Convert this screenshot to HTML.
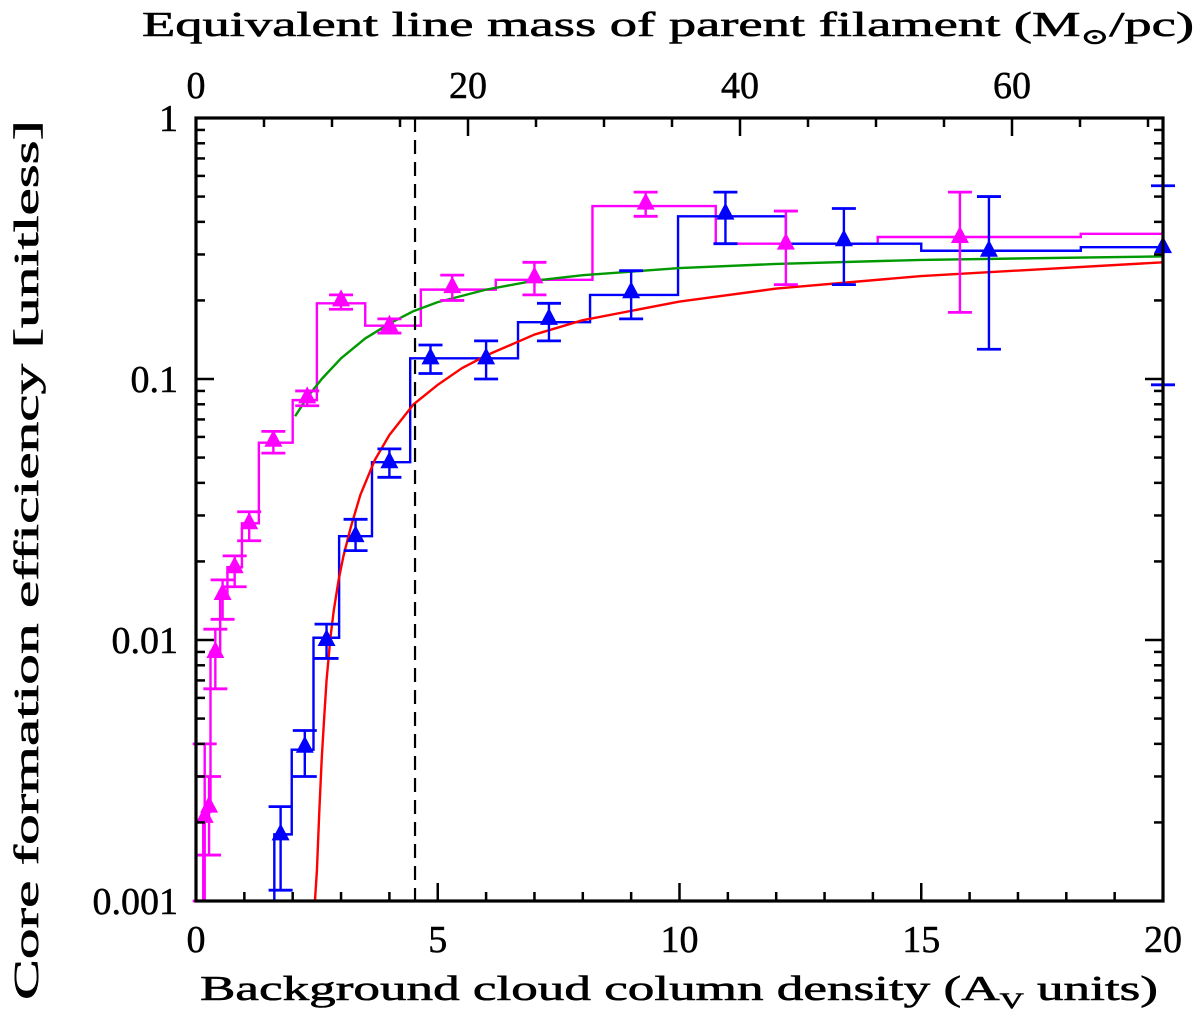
<!DOCTYPE html>
<html><head><meta charset="utf-8"><style>
html,body{margin:0;padding:0;background:#fff}
svg{display:block}
text{font-family:"Liberation Serif","DejaVu Serif",serif;fill:#000}
</style></head><body>
<svg id="chart" width="1200" height="1016" viewBox="0 0 1200 1016" xmlns="http://www.w3.org/2000/svg" style="position:absolute;left:0;top:0">
<g id="marks"></g>
<g id="axes"></g>
<text x="200" y="1000" font-size="35" textLength="958" lengthAdjust="spacingAndGlyphs" stroke="#000" stroke-width="0.6">Background cloud column density (A<tspan font-size="22" dy="8">V</tspan><tspan dy="-8"> units)</tspan></text>
<text x="142" y="36" font-size="35" textLength="1052" lengthAdjust="spacingAndGlyphs" stroke="#000" stroke-width="0.6">Equivalent line mass of parent filament (M<tspan font-size="22" dy="8">⊙</tspan><tspan dy="-8">/pc)</tspan></text>
<text transform="translate(38,1000) rotate(-90)" font-size="35" textLength="880" lengthAdjust="spacingAndGlyphs" stroke="#000" stroke-width="0.6">Core formation efficiency [unitless]</text>
</svg>
<script>
// ---- data ----
const magEdges = [0,0.15,0.3,0.5,0.65,0.95,1.3,2.0,2.5,3.5,4.65,6.2,8.2,10.75,14.1,18.3,20];
const magVals  = [0.001,0.0022,0.009,0.015,0.019,0.028,0.057,0.083,0.195,0.16,0.22,0.24,0.46,0.33,0.35,0.36];
const magX   = [0.18,0.27,0.4,0.55,0.8,1.1,1.6,2.3,3.0,4.0,5.3,7.0,9.3,12.2,15.8];
const magY   = [0.0021,0.0023,0.009,0.015,0.019,0.028,0.058,0.085,0.20,0.16,0.225,0.245,0.47,0.33,0.35];
const magLo  = [0.001,0.0015,0.0065,0.012,0.016,0.024,0.052,0.079,0.185,0.15,0.2,0.21,0.42,0.23,0.18];
const magHi  = [0.004,0.003,0.011,0.017,0.021,0.031,0.063,0.09,0.21,0.17,0.25,0.28,0.52,0.44,0.52];
const bluEdges = [0,1.62,1.98,2.43,2.96,3.64,4.43,6.66,8.15,9.97,12.2,15.0,18.3,20];
const bluVals  = [0.001,0.0018,0.0038,0.0102,0.025,0.048,0.12,0.165,0.21,0.42,0.33,0.31,0.32];
const bluX  = [1.75,2.25,2.7,3.3,4.0,4.85,6.0,7.3,9.0,10.95,13.4,16.4,20];
const bluY  = [0.0018,0.0039,0.010,0.025,0.048,0.12,0.12,0.17,0.215,0.43,0.34,0.31,0.32];
const bluLo = [0.0011,0.003,0.0085,0.022,0.042,0.105,0.10,0.14,0.17,0.33,0.23,0.13,0.095];
const bluHi = [0.0023,0.0045,0.0115,0.029,0.054,0.135,0.14,0.195,0.26,0.52,0.45,0.5,0.55];
const greenX = [2.05,2.3,2.6,3,3.5,4,4.5,5,6,7,8,10,12,15,20];
const greenY = [0.072,0.085,0.1,0.12,0.143,0.163,0.182,0.197,0.22,0.238,0.25,0.266,0.276,0.286,0.295];
const redX = [1.86,2.46,2.5,2.55,2.6,2.65,2.7,2.78,2.85,2.95,3.05,3.2,3.4,3.7,4,4.5,5,5.5,6,7,8,10,12,15,20];
const redY = [0.001,0.001,0.0013,0.0022,0.0035,0.005,0.007,0.0102,0.013,0.017,0.021,0.027,0.036,0.049,0.061,0.08,0.095,0.11,0.123,0.148,0.168,0.198,0.222,0.248,0.28];
const xTicks = [0,5,10,15,20];
const yTicks = [1,0.1,0.01,0.001];
const yTickLabels = ["1","0.1","0.01","0.001"];
const topTicks = [0,20,40,60];
const dashedAv = 4.53;

// ---- scales ----
const L=196,R=1163,T=118,B=901;
const X=v=>L+(v/20)*(R-L);
const Y=v=>T+(-Math.log10(v))/3*(B-T);
const XT=m=>L+m*13.6;
const NS="http://www.w3.org/2000/svg";
const marks=document.getElementById('marks'), axes=document.getElementById('axes');
function mk(tag,attrs,parent){const e=document.createElementNS(NS,tag);for(const k in attrs)e.setAttribute(k,attrs[k]);parent.appendChild(e);return e;}
function clipY(v){return Math.min(B,Math.max(T,Y(v)));}

function steps(edges,vals,color,name){
  let d='';
  for(let i=0;i<vals.length;i++){
    const y=clipY(vals[i]);
    d+=(i===0?'M':'L')+X(edges[i])+','+y+' L'+X(edges[i+1])+','+y+' ';
  }
  const p=mk('path',{d:d,fill:'none',stroke:color,'stroke-width':2.4},marks);
  
  
}
function points(xs,ys,lo,hi,color,name){
  for(let i=0;i<xs.length;i++){
    const g=mk('g',{},marks);
    
    
    const x=X(xs[i]);
    const yl=clipY(lo[i]),yh=clipY(hi[i]);
    mk('line',{x1:x,x2:x,y1:yl,y2:yh,stroke:color,'stroke-width':2.4},g);
    mk('line',{x1:x-12,x2:x+12,y1:yl,y2:yl,stroke:color,'stroke-width':2.8},g);
    mk('line',{x1:x-12,x2:x+12,y1:yh,y2:yh,stroke:color,'stroke-width':2.8},g);
    const y=Y(ys[i]);
    mk('polygon',{points:`${x},${y-11} ${x-9},${y+6} ${x+9},${y+6}`,fill:color},g);
  }
}
function curve(xs,ys,color,name){
  const p=mk('polyline',{points:xs.map((v,i)=>X(v)+','+clipY(ys[i])).join(' '),fill:'none',stroke:color,'stroke-width':2.4,'stroke-linejoin':'round'},marks);
  
  
}
steps(magEdges,magVals,'#ff00ff','magenta-histogram');
steps(bluEdges,bluVals,'#0000ff','blue-histogram');
curve(greenX,greenY,'#009900','green-model-curve');
curve(redX,redY,'#ff0000','red-model-curve');
points(magX,magY,magLo,magHi,'#ff00ff','magenta');
points(bluX,bluY,bluLo,bluHi,'#0000ff','blue');
const dl=mk('line',{x1:X(dashedAv),x2:X(dashedAv),y1:T,y2:B,stroke:'#000','stroke-width':2.2,'stroke-dasharray':'14,8'},marks);



// ---- axes ----
const frame=mk('rect',{x:L,y:T,width:R-L,height:B-T,fill:'none',stroke:'#000','stroke-width':3.2},axes);


for(let v=0;v<=20;v++){
  const len=v%5===0?18:9;
  mk('line',{x1:X(v),x2:X(v),y1:B,y2:B-len,stroke:'#000','stroke-width':2.5},axes);
}
xTicks.forEach(v=>{
  const t=mk('text',{x:X(v),y:B+51,'font-size':38,'text-anchor':'middle',stroke:'#000','stroke-width':0.5},axes);t.textContent=v;
  
  
});
for(let m=0;XT(m)<=R+1;m+=5){
  const len=m%20===0?18:9;
  mk('line',{x1:XT(m),x2:XT(m),y1:T,y2:T+len,stroke:'#000','stroke-width':2.5},axes);
}
topTicks.forEach(m=>{
  const t=mk('text',{x:XT(m),y:T-20,'font-size':38,'text-anchor':'middle',stroke:'#000','stroke-width':0.5},axes);t.textContent=m;
  
  
});
for(let d=0;d<3;d++){
  for(let k=1;k<=9;k++){
    const v=Math.pow(10,-3+d)*k;
    const y=Y(v);
    const len=k===1?18:9;
    mk('line',{x1:L,x2:L+len,y1:y,y2:y,stroke:'#000','stroke-width':2.5},axes);
    mk('line',{x1:R,x2:R-len,y1:y,y2:y,stroke:'#000','stroke-width':2.5},axes);
  }
}
yTicks.forEach((v,i)=>{
  const t=mk('text',{x:178,y:Y(v)+13,'font-size':38,'text-anchor':'end',stroke:'#000','stroke-width':0.5},axes);t.textContent=yTickLabels[i];
  
  
});
</script>
</body></html>
